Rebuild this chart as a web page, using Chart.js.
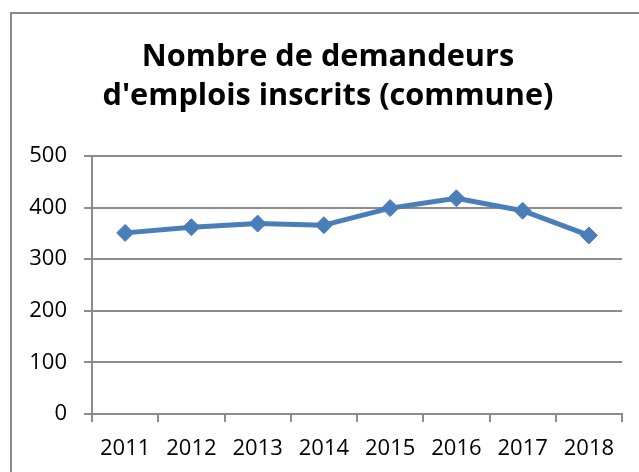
<!DOCTYPE html>
<html>
<head>
<meta charset="utf-8">
<script src="https://cdn.jsdelivr.net/npm/chart.js@4/dist/chart.umd.min.js"></script>
<style>
  html, body { margin: 0; padding: 0; width: 639px; height: 472px; overflow: hidden; background: #fff; }
  #frame { position: absolute; left: 10px; top: 12px; width: 700px; height: 600px; border: 2px solid #888; box-sizing: border-box; background: #fff; }
  #wrap { position: absolute; left: 0; top: 0; width: 656px; height: 472px; }
</style>
</head>
<body>
<div id="frame"></div>
<div id="wrap"><canvas id="c" width="656" height="472"></canvas></div>
<script>
const titleLines = ["Nombre de demandeurs", "d'emplois inscrits (commune)"];
const years = ["2011", "2012", "2013", "2014", "2015", "2016", "2017", "2018"];
const demandeurs = [351, 362, 369, 366, 399, 418, 394, 346];
const yTicks = [0, 100, 200, 300, 400, 500];

// Fit title font size to the reference width of the second line
const mctx = document.createElement('canvas').getContext('2d');
mctx.font = "bold 100px 'Open Sans'";
const w100 = mctx.measureText(titleLines[1]).width;
const titleSize = Math.round(100 * 451 / w100 * 10) / 10;
const titleLineH = 39;

const grey = '#8c8c8c';
const blue = '#4A7EBB';

new Chart(document.getElementById('c'), {
  type: 'line',
  data: {
    labels: years,
    datasets: [{
      data: demandeurs,
      borderColor: blue,
      backgroundColor: blue,
      borderWidth: 5,
      tension: 0,
      pointStyle: 'rectRot',
      pointRadius: 8.5,
      pointHoverRadius: 8.5,
      pointBackgroundColor: blue,
      pointBorderColor: blue,
      pointBorderWidth: 1,
      borderJoinStyle: 'round',
      clip: false
    }]
  },
  options: {
    responsive: false,
    animation: false,
    events: [],
    layout: { padding: { left: 0, right: 0, top: 0, bottom: 0 } },
    plugins: {
      legend: { display: false },
      tooltip: { enabled: false },
      title: {
        display: true,
        text: titleLines,
        color: '#000',
        font: { family: "'Open Sans'", weight: 'bold', size: titleSize, lineHeight: titleLineH / titleSize },
        padding: { top: 38, bottom: 156 - 38 - 2 * titleLineH }
      }
    },
    scales: {
      x: {
        type: 'category',
        offset: true,
        grid: { display: true, drawOnChartArea: false, drawTicks: true, tickLength: 8, offset: true, color: grey, lineWidth: 2 },
        border: { display: true, color: grey, width: 2 },
        ticks: { color: '#000', font: { family: "'Open Sans'", size: 22 }, padding: 14, maxRotation: 0, autoSkip: false },
        afterFit: (s) => { s.height = 58; }
      },
      y: {
        position: 'left',
        min: 0,
        max: 500,
        afterBuildTicks: (s) => { s.ticks = yTicks.map(v => ({ value: v })); },
        grid: { color: grey, lineWidth: 2, drawTicks: true, tickLength: 8 },
        border: { display: true, color: grey, width: 2 },
        ticks: { color: '#000', font: { family: "'Open Sans'", size: 22 }, padding: 17 },
        afterFit: (s) => { s.width = 92; }
      },
      yRightSpace: {
        position: 'right',
        min: 0,
        max: 500,
        grid: { display: false, drawOnChartArea: false },
        border: { display: false },
        ticks: { display: false },
        afterFit: (s) => { s.width = 34; }
      }
    }
  }
});
</script>
</body>
</html>
